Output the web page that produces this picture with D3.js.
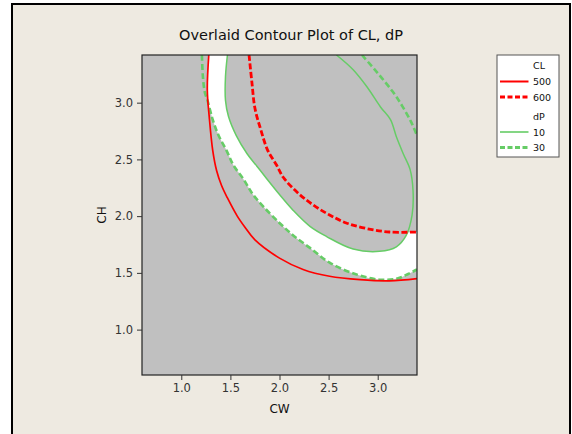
<!DOCTYPE html>
<html><head><meta charset="utf-8">
<script src="https://cdn.jsdelivr.net/npm/d3@7"></script>
<style>body{margin:0;background:#fff}svg{display:block}text{font-family:"DejaVu Sans",Verdana,sans-serif}</style>
</head><body>
<svg id="chart" width="572" height="434"></svg>
<script>
// Axis settings
const xDomain = [0.6, 3.4];
const yDomain = [0.6, 3.42];
const xTicks = [1.0, 1.5, 2.0, 2.5, 3.0];
const yTicks = [1.0, 1.5, 2.0, 2.5, 3.0];

// Contour lines, [CW, CH] pairs
const cl500 = [[1.28,3.42],[1.265,3.11],[1.285,2.87],[1.32,2.58],[1.36,2.40],[1.41,2.27],[1.47,2.16],[1.57,2.00],[1.65,1.90],[1.75,1.79],[2.00,1.63],[2.24,1.53],[2.51,1.47],[2.82,1.44],[3.12,1.43],[3.40,1.45]];
const cl600 = [[1.69,3.42],[1.72,3.17],[1.75,2.95],[1.81,2.76],[1.88,2.58],[1.97,2.45],[2.04,2.34],[2.18,2.21],[2.34,2.10],[2.51,2.01],[2.68,1.94],[2.89,1.89],[3.12,1.86],[3.40,1.86]];
const dp10 = [[1.47,3.42],[1.45,3.23],[1.45,3.02],[1.48,2.88],[1.56,2.71],[1.67,2.55],[1.77,2.44],[1.87,2.33],[2.00,2.19],[2.14,2.05],[2.31,1.91],[2.48,1.82],[2.75,1.71],[3.02,1.69],[3.19,1.73],[3.29,1.83],[3.35,2.01],[3.36,2.22],[3.33,2.41],[3.26,2.55],[3.19,2.70],[3.13,2.85],[3.03,2.96],[2.89,3.14],[2.75,3.29],[2.58,3.42]];
const dp30Lower = [[1.21,3.42],[1.22,3.23],[1.24,3.09],[1.27,3.01],[1.32,2.85],[1.38,2.71],[1.46,2.58],[1.53,2.45],[1.63,2.33],[1.73,2.19],[1.84,2.08],[2.00,1.94],[2.14,1.83],[2.31,1.72],[2.51,1.59],[2.77,1.49],[3.02,1.44],[3.20,1.45],[3.31,1.49],[3.40,1.53]];
const dp30Upper = [[2.84,3.42],[3.00,3.26],[3.15,3.10],[3.25,2.97],[3.34,2.83],[3.40,2.71]];

const legendGroups = ["CL", "dP"];
const legendCL = ["500", "600"];
const legendDP = ["10", "30"];

const RED = "#ff0000", GREEN = "#66cc66";

const svg = d3.select("#chart");
const plot = {left: 142, right: 417, top: 55, bottom: 375};
const x = d3.scaleLinear().domain(xDomain).range([plot.left, plot.right]);
const y = d3.scaleLinear().domain(yDomain).range([plot.bottom, plot.top]);

// outer panel
svg.append("rect").attr("x", 12).attr("y", 4).attr("width", 558).attr("height", 440)
  .attr("fill", "#eeeae1").attr("stroke", "#000").attr("stroke-width", 2);

const defs = svg.append("defs");
const line = d3.line().x(d => x(d[0])).y(d => y(d[1])).curve(d3.curveCatmullRom.alpha(0.5));
const cont = pts => line(pts).replace(/^M/, "L");
const pt = (a, b) => `L${x(a)},${y(b)}`;
const rectPath = `M${plot.left},${plot.top}H${plot.right}V${plot.bottom}H${plot.left}Z`;

// feasible region clips: CL > 500, dP < 30, dP > 10, CL < 600
defs.append("clipPath").attr("id", "clAbove500").append("path")
  .attr("d", line(cl500) + pt(xDomain[1], yDomain[1]) + "Z");
defs.append("clipPath").attr("id", "dpBelow30").append("path")
  .attr("d", line(dp30Lower) + cont(dp30Upper.slice().reverse()) + "Z");
defs.append("clipPath").attr("id", "dpAbove10").append("path")
  .attr("clip-rule", "evenodd")
  .attr("d", rectPath + line(dp10) + "Z");
defs.append("clipPath").attr("id", "clBelow600").append("path")
  .attr("d", line(cl600) + pt(xDomain[1], yDomain[0]) + pt(xDomain[0], yDomain[0]) + pt(xDomain[0], yDomain[1]) + "Z");
defs.append("clipPath").attr("id", "plotArea").append("rect")
  .attr("x", plot.left).attr("y", plot.top)
  .attr("width", plot.right - plot.left).attr("height", plot.bottom - plot.top);

// plot background
svg.append("rect").attr("x", plot.left).attr("y", plot.top)
  .attr("width", plot.right - plot.left).attr("height", plot.bottom - plot.top)
  .attr("fill", "#c0c0c0");

// white feasible band
svg.append("g").attr("clip-path", "url(#clAbove500)")
  .append("g").attr("clip-path", "url(#dpBelow30)")
  .append("g").attr("clip-path", "url(#dpAbove10)")
  .append("rect").attr("clip-path", "url(#clBelow600)")
  .attr("x", plot.left).attr("y", plot.top)
  .attr("width", plot.right - plot.left).attr("height", plot.bottom - plot.top)
  .attr("fill", "#fff");

// contour lines
const lines = svg.append("g").attr("clip-path", "url(#plotArea)").attr("fill", "none");
const drawLine = (pts, color, width, dash) => {
  const p = lines.append("path").attr("d", line(pts)).attr("stroke", color).attr("stroke-width", width);
  if (dash) p.attr("stroke-dasharray", dash);
};
drawLine(dp30Lower, GREEN, 2.6, "6,3");
drawLine(dp30Upper, GREEN, 2.6, "6,3");
drawLine(dp10, GREEN, 1.5);
drawLine(cl500, RED, 1.7);
drawLine(cl600, RED, 2.8, "6,2.5");

// frame
svg.append("rect").attr("x", plot.left).attr("y", plot.top)
  .attr("width", plot.right - plot.left).attr("height", plot.bottom - plot.top)
  .attr("fill", "none").attr("stroke", "#222").attr("stroke-width", 1.2);

// axes
const xAxis = svg.append("g").attr("transform", `translate(0,${plot.bottom})`)
  .call(d3.axisBottom(x).tickValues(xTicks).tickFormat(d3.format(".1f")).tickSize(5).tickPadding(4));
const yAxis = svg.append("g").attr("transform", `translate(${plot.left},0)`)
  .call(d3.axisLeft(y).tickValues(yTicks).tickFormat(d3.format(".1f")).tickSize(5).tickPadding(4));
[xAxis, yAxis].forEach(a => {
  a.select(".domain").remove();
  a.selectAll(".tick line").attr("stroke", "#333");
  a.selectAll(".tick text").attr("fill", "#333").attr("font-size", 11.5)
    .style("font-family", '"DejaVu Sans",Verdana,sans-serif');
});

// titles
svg.append("text").attr("x", 291).attr("y", 40).attr("text-anchor", "middle")
  .attr("font-size", 14.5).attr("fill", "#111").text("Overlaid Contour Plot of CL, dP");
svg.append("text").attr("x", (plot.left + plot.right) / 2).attr("y", 413).attr("text-anchor", "middle")
  .attr("font-size", 12).attr("fill", "#111").text("CW");
svg.append("text").attr("transform", `translate(106,${(plot.top + plot.bottom) / 2}) rotate(-90)`)
  .attr("text-anchor", "middle").attr("font-size", 12).attr("fill", "#111").text("CH");

// legend
const lg = svg.append("g");
lg.append("rect").attr("x", 497).attr("y", 55).attr("width", 62).attr("height", 102)
  .attr("fill", "#fff").attr("stroke", "#555");
const rows = [
  {label: legendGroups[0]},
  {label: legendCL[0], color: RED, width: 2},
  {label: legendCL[1], color: RED, width: 2.8, dash: "5,2.5"},
  {label: legendGroups[1]},
  {label: legendDP[0], color: GREEN, width: 1.6},
  {label: legendDP[1], color: GREEN, width: 2.8, dash: "5,2.5"}
];
const rowY = [65, 81.5, 97, 116, 132, 147.5];
rows.forEach((r, i) => {
  const yy = rowY[i];
  if (r.color) {
    const l = lg.append("line").attr("x1", 500).attr("x2", 528.5).attr("y1", yy).attr("y2", yy)
      .attr("stroke", r.color).attr("stroke-width", r.width);
    if (r.dash) l.attr("stroke-dasharray", r.dash);
  }
  lg.append("text").attr("x", 533).attr("y", yy + 3.5).attr("font-size", 9.5).attr("fill", "#111").text(r.label);
});
</script>
</body></html>
